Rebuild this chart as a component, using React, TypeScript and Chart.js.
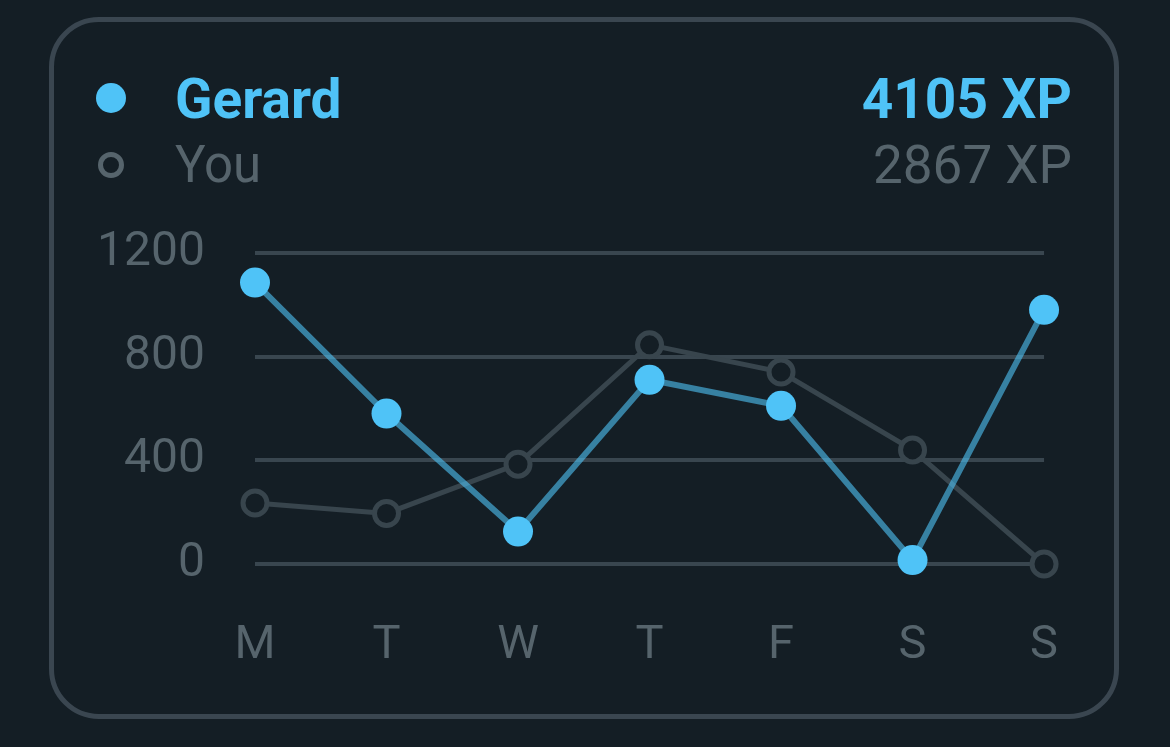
import React, { useEffect, useRef } from "react";
import { Chart, registerables } from "chart.js";

Chart.register(...registerables);

const days = ["M", "T", "W", "T", "F", "S", "S"];
const gerardXP = [1085, 580, 125, 710, 610, 15, 980];
const youXP = [235, 195, 385, 845, 740, 440, 0];
const yTicks = [0, 400, 800, 1200];
const gerardName = "Gerard";
const youName = "You";
const gerardTotal = "4105 XP";
const youTotal = "2867 XP";

const BG = "#141e25";
const BLUE = "#4fc3f7";
const BLUE_LINE = "rgba(79,195,247,0.6)";
const GRAY_LINE = "#38454d";
const GRAY_TEXT = "#56646c";
const GRID = "#39464f";
const FONT = "Roboto, 'DejaVu Sans', sans-serif";

export default function App() {
  const canvasRef = useRef<HTMLCanvasElement | null>(null);

  useEffect(() => {
    let chart: Chart | null = null;
    let cancelled = false;
    const make = () => {
      if (cancelled || !canvasRef.current) return;
      chart = new Chart(canvasRef.current, {
        type: "line",
        data: {
          labels: days,
          datasets: [
            {
              label: gerardName,
              data: gerardXP,
              borderColor: BLUE_LINE,
              borderWidth: 6,
              pointRadius: 15,
              pointHoverRadius: 15,
              pointBackgroundColor: BLUE,
              pointBorderWidth: 0,
              tension: 0,
              clip: false as any,
            },
            {
              label: youName,
              data: youXP,
              borderColor: GRAY_LINE,
              borderWidth: 5,
              pointRadius: 12,
              pointHoverRadius: 12,
              pointBackgroundColor: BG,
              pointBorderColor: GRAY_LINE,
              pointBorderWidth: 5,
              tension: 0,
              clip: false as any,
            },
          ],
        },
        options: {
          animation: false,
          responsive: false,
          devicePixelRatio: 1,
          layout: {
            autoPadding: false,
            padding: { left: 0, right: 57, top: 32, bottom: 26 },
          },
          plugins: { legend: { display: false }, tooltip: { enabled: false } },
          events: [],
          scales: {
            x: {
              grid: { display: false, drawTicks: false },
              border: { display: false },
              ticks: {
                color: GRAY_TEXT,
                font: { family: FONT, size: 47 },
                padding: 54,
                maxRotation: 0,
              },
              afterFit: (s: any) => {
                s.height = 110;
              },
            },
            y: {
              min: 0,
              max: 1200,
              afterBuildTicks: (s: any) => {
                s.ticks = yTicks.map((v) => ({ value: v }));
              },
              grid: { color: GRID, lineWidth: 4, drawTicks: false },
              border: { display: false },
              ticks: {
                color: GRAY_TEXT,
                font: { family: FONT, size: 48 },
                padding: 50,
                callback: (v: any) => String(v),
              },
              afterFit: (s: any) => {
                s.width = 195;
              },
            },
          },
        },
      });
    };
    const fontsAny = (document as any).fonts;
    if (fontsAny && fontsAny.load) {
      Promise.all([
        fontsAny.load("48px Roboto"),
        fontsAny.load("bold 55px Roboto"),
      ])
        .catch(() => {})
        .then(make);
    } else {
      make();
    }
    return () => {
      cancelled = true;
      if (chart) chart.destroy();
    };
  }, []);

  const row = (top: number, size: number): React.CSSProperties => ({
    position: "absolute",
    top,
    height: 60,
    lineHeight: "60px",
    fontFamily: FONT,
    fontSize: size,
    whiteSpace: "nowrap",
  });

  return (
    <div
      style={{
        position: "fixed",
        left: 0,
        top: 0,
        width: 1170,
        height: 747,
        background: BG,
        overflow: "hidden",
      }}
    >
      <div
        style={{
          position: "absolute",
          left: 49,
          top: 17,
          width: 1070,
          height: 702,
          boxSizing: "border-box",
          border: "5px solid #3a4650",
          borderRadius: 50,
        }}
      />
      {/* legend */}
      <div
        style={{
          position: "absolute",
          left: 96,
          top: 83,
          width: 30,
          height: 30,
          borderRadius: "50%",
          background: BLUE,
        }}
      />
      <div
        style={{
          position: "absolute",
          left: 98,
          top: 152,
          width: 26,
          height: 26,
          borderRadius: "50%",
          boxSizing: "border-box",
          border: `5px solid ${GRAY_TEXT}`,
        }}
      />
      <div style={{ ...row(69, 55), left: 175, color: BLUE, fontWeight: 700 }}>
        {gerardName}
      </div>
      <div style={{ ...row(135, 51), left: 175, color: GRAY_TEXT }}>
        {youName}
      </div>
      <div
        style={{
          ...row(69, 55),
          right: 1170 - 1072,
          color: BLUE,
          fontWeight: 700,
          textAlign: "right",
        }}
      >
        {gerardTotal}
      </div>
      <div
        style={{
          ...row(135, 53),
          right: 1170 - 1072,
          color: GRAY_TEXT,
          textAlign: "right",
        }}
      >
        {youTotal}
      </div>
      <canvas
        ref={canvasRef}
        width={1052}
        height={526}
        style={{
          position: "absolute",
          left: 60,
          top: 174,
          width: 1052,
          height: 526,
        }}
      />
    </div>
  );
}
